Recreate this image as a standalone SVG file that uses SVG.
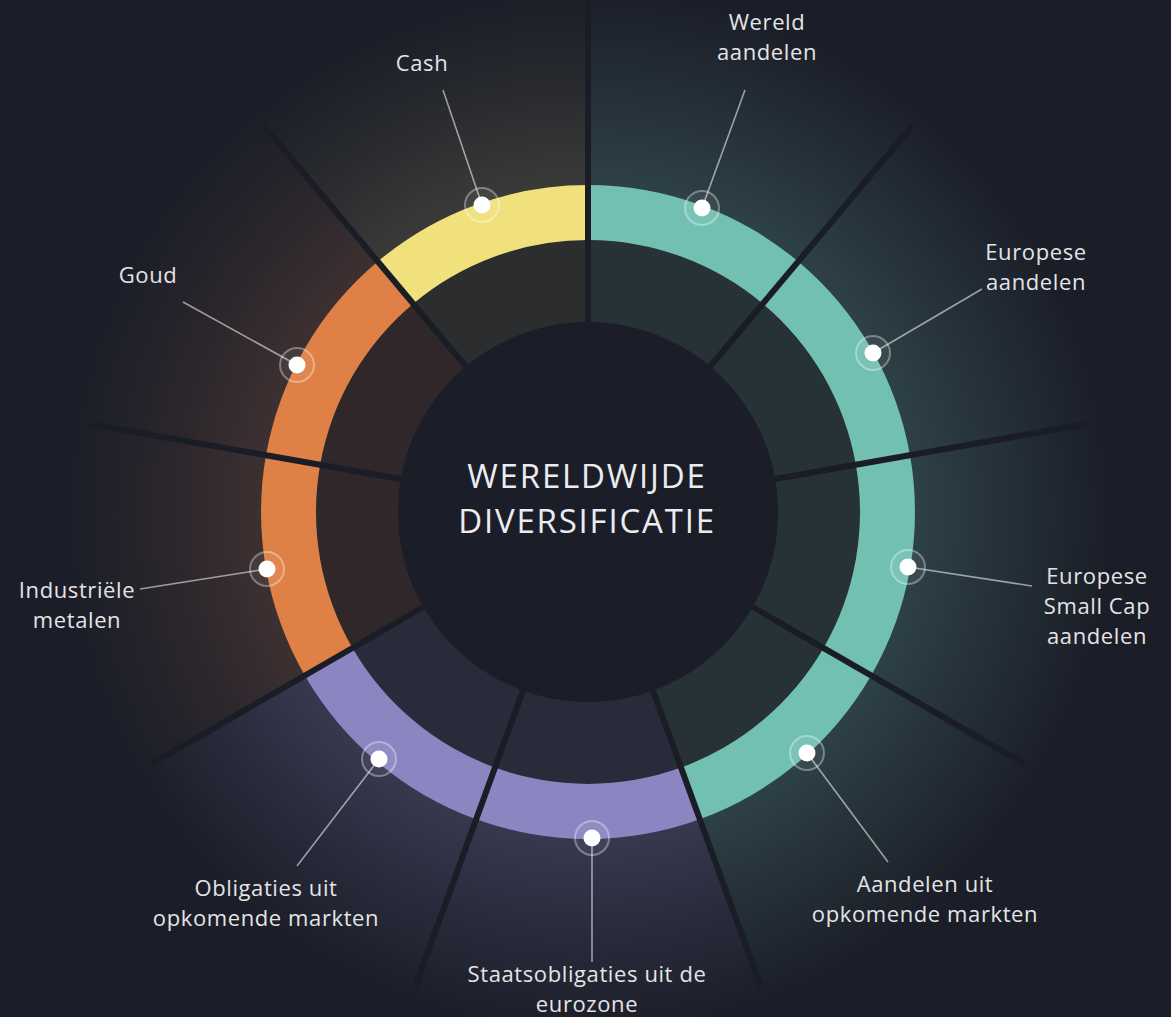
<svg xmlns="http://www.w3.org/2000/svg" width="1171" height="1017" viewBox="0 0 1171 1017">
<style>
.lbl{font-family:"Open Sans","Liberation Sans",sans-serif;font-size:22px;letter-spacing:0.6px;fill:#e4e4e6;text-anchor:middle}
.ctr{font-family:"Open Sans","Liberation Sans",sans-serif;font-size:33px;letter-spacing:1.8px;font-weight:400;fill:#ececf0;text-anchor:middle}
.sep{stroke:#1a1d26;stroke-width:6;stroke-linecap:butt;fill:none}
.lead{stroke:#ffffff;stroke-opacity:0.55;stroke-width:1.6;fill:none}
.dot{fill:#ffffff}
.halo{fill:#ffffff;fill-opacity:0.06;stroke:#ffffff;stroke-opacity:0.35;stroke-width:2}
</style>
<defs>
<radialGradient id="gTeal" gradientUnits="userSpaceOnUse" cx="588" cy="512" r="600">
<stop offset="0.3" stop-color="#6fbfb0" stop-opacity="0.05"/>
<stop offset="0.54" stop-color="#6fbfb0" stop-opacity="0.22"/>
<stop offset="0.7" stop-color="#6fbfb0" stop-opacity="0.11"/>
<stop offset="0.87" stop-color="#6fbfb0" stop-opacity="0"/>
</radialGradient>
<radialGradient id="gPurple" gradientUnits="userSpaceOnUse" cx="588" cy="512" r="600">
<stop offset="0.3" stop-color="#8a83c0" stop-opacity="0.05"/>
<stop offset="0.54" stop-color="#8a83c0" stop-opacity="0.26"/>
<stop offset="0.7" stop-color="#8a83c0" stop-opacity="0.13"/>
<stop offset="0.87" stop-color="#8a83c0" stop-opacity="0"/>
</radialGradient>
<radialGradient id="gOrange" gradientUnits="userSpaceOnUse" cx="588" cy="512" r="600">
<stop offset="0.3" stop-color="#b87050" stop-opacity="0.05"/>
<stop offset="0.54" stop-color="#b87050" stop-opacity="0.22"/>
<stop offset="0.7" stop-color="#b87050" stop-opacity="0.1"/>
<stop offset="0.87" stop-color="#b87050" stop-opacity="0"/>
</radialGradient>
<radialGradient id="gYellow" gradientUnits="userSpaceOnUse" cx="588" cy="512" r="600">
<stop offset="0.3" stop-color="#c8c080" stop-opacity="0.05"/>
<stop offset="0.54" stop-color="#c8c080" stop-opacity="0.18"/>
<stop offset="0.7" stop-color="#c8c080" stop-opacity="0.08"/>
<stop offset="0.87" stop-color="#c8c080" stop-opacity="0"/>
</radialGradient>
</defs>

<rect x="0" y="0" width="1171" height="1017" fill="#1b1e28"/>

<g id="glow">
<path d="M 588 512 L 588 -108 A 620 620 0 0 1 800.05 1094.6 Z" fill="url(#gTeal)"/>
<path d="M 588 512 L 800.05 1094.6 A 620 620 0 0 1 51.1 822 Z" fill="url(#gPurple)"/>
<path d="M 588 512 L 51.1 822 A 620 620 0 0 1 189.5 37.1 Z" fill="url(#gOrange)"/>
<path d="M 588 512 L 189.5 37.1 A 620 620 0 0 1 588 -108 Z" fill="url(#gYellow)"/>
</g>

<g id="ring">
<path d="M 588 240 A 272 272 0 0 1 681.02 767.6 L 652.98 690.54 A 190 190 0 0 0 588 322 Z" fill="#273236"/>
<path d="M 681.02 767.6 A 272 272 0 0 1 352.45 648 L 423.46 607 A 190 190 0 0 0 652.98 690.54 Z" fill="#2a2b3a"/>
<path d="M 352.45 648 A 272 272 0 0 1 413.16 303.65 L 465.87 366.46 A 190 190 0 0 0 423.46 607 Z" fill="#2f2729"/>
<path d="M 413.16 303.65 A 272 272 0 0 1 588 240 L 588 322 A 190 190 0 0 0 465.87 366.46 Z" fill="#2c2d2e"/>
<path d="M 588 185 A 327 327 0 0 1 699.83 819.28 L 681.02 767.6 A 272 272 0 0 0 588 240 Z" fill="#72c0b2"/>
<path d="M 699.83 819.28 A 327 327 0 0 1 304.82 675.5 L 352.45 648 A 272 272 0 0 0 681.02 767.6 Z" fill="#8b85c1"/>
<path d="M 304.82 675.5 A 327 327 0 0 1 377.8 261.52 L 413.16 303.65 A 272 272 0 0 0 352.45 648 Z" fill="#df8046"/>
<path d="M 377.8 261.52 A 327 327 0 0 1 588 185 L 588 240 A 272 272 0 0 0 413.16 303.65 Z" fill="#f0e17c"/>
</g>

<g id="separators">
<line class="sep" x1="588" y1="322" x2="588" y2="0"/>
<line class="sep" x1="710.13" y1="366.46" x2="912.6" y2="125.2"/>
<line class="sep" x1="775.1" y1="479" x2="1085.3" y2="424.3"/>
<line class="sep" x1="752.5" y1="607" x2="1025.3" y2="764.5"/>
<line class="sep" x1="652.98" y1="690.54" x2="760.7" y2="986.5"/>
<line class="sep" x1="523.02" y1="690.54" x2="415.3" y2="986.5"/>
<line class="sep" x1="423.46" y1="607" x2="150.7" y2="764.5"/>
<line class="sep" x1="400.9" y1="479" x2="90.7" y2="424.3"/>
<line class="sep" x1="465.87" y1="366.46" x2="263.4" y2="125.2"/>
</g>

<g id="center">
<circle cx="588" cy="512" r="190" fill="#1b1e28"/>
<text class="ctr" x="587" y="488">WERELDWIJDE</text>
<text class="ctr" x="587" y="533">DIVERSIFICATIE</text>
</g>

<g id="connectors">
<line class="lead" x1="482" y1="205" x2="443" y2="90"/>
<line class="lead" x1="702" y1="208" x2="745" y2="90"/>
<line class="lead" x1="873" y1="353" x2="982" y2="289"/>
<line class="lead" x1="908" y1="567" x2="1032" y2="586"/>
<line class="lead" x1="807" y1="753" x2="888" y2="862"/>
<line class="lead" x1="592" y1="838" x2="592" y2="962"/>
<line class="lead" x1="379" y1="759" x2="297" y2="866"/>
<line class="lead" x1="267" y1="569" x2="140" y2="589"/>
<line class="lead" x1="297" y1="365" x2="183" y2="302"/>
</g>

<g id="node-cash">
<circle class="halo" cx="482" cy="205" r="17"/><circle class="dot" cx="482" cy="205" r="8.5"/>
<text class="lbl" x="422" y="71">Cash</text>
</g>
<g id="node-wereld">
<circle class="halo" cx="702" cy="208" r="17"/><circle class="dot" cx="702" cy="208" r="8.5"/>
<text class="lbl" x="767" y="30">Wereld</text>
<text class="lbl" x="767" y="60">aandelen</text>
</g>
<g id="node-europese">
<circle class="halo" cx="873" cy="353" r="17"/><circle class="dot" cx="873" cy="353" r="8.5"/>
<text class="lbl" x="1036" y="260">Europese</text>
<text class="lbl" x="1036" y="290">aandelen</text>
</g>
<g id="node-smallcap">
<circle class="halo" cx="908" cy="567" r="17"/><circle class="dot" cx="908" cy="567" r="8.5"/>
<text class="lbl" x="1097" y="584">Europese</text>
<text class="lbl" x="1097" y="614">Small Cap</text>
<text class="lbl" x="1097" y="644">aandelen</text>
</g>
<g id="node-aandelen-opkomend">
<circle class="halo" cx="807" cy="753" r="17"/><circle class="dot" cx="807" cy="753" r="8.5"/>
<text class="lbl" x="925" y="892">Aandelen uit</text>
<text class="lbl" x="925" y="922">opkomende markten</text>
</g>
<g id="node-staats">
<circle class="halo" cx="592" cy="838" r="17"/><circle class="dot" cx="592" cy="838" r="8.5"/>
<text class="lbl" x="587" y="982">Staatsobligaties uit de</text>
<text class="lbl" x="587" y="1012">eurozone</text>
</g>
<g id="node-obligaties">
<circle class="halo" cx="379" cy="759" r="17"/><circle class="dot" cx="379" cy="759" r="8.5"/>
<text class="lbl" x="266" y="896">Obligaties uit</text>
<text class="lbl" x="266" y="926">opkomende markten</text>
</g>
<g id="node-industriele">
<circle class="halo" cx="267" cy="569" r="17"/><circle class="dot" cx="267" cy="569" r="8.5"/>
<text class="lbl" x="77" y="598">Industriële</text>
<text class="lbl" x="77" y="628">metalen</text>
</g>
<g id="node-goud">
<circle class="halo" cx="297" cy="365" r="17"/><circle class="dot" cx="297" cy="365" r="8.5"/>
<text class="lbl" x="148" y="283">Goud</text>
</g>
</svg>
